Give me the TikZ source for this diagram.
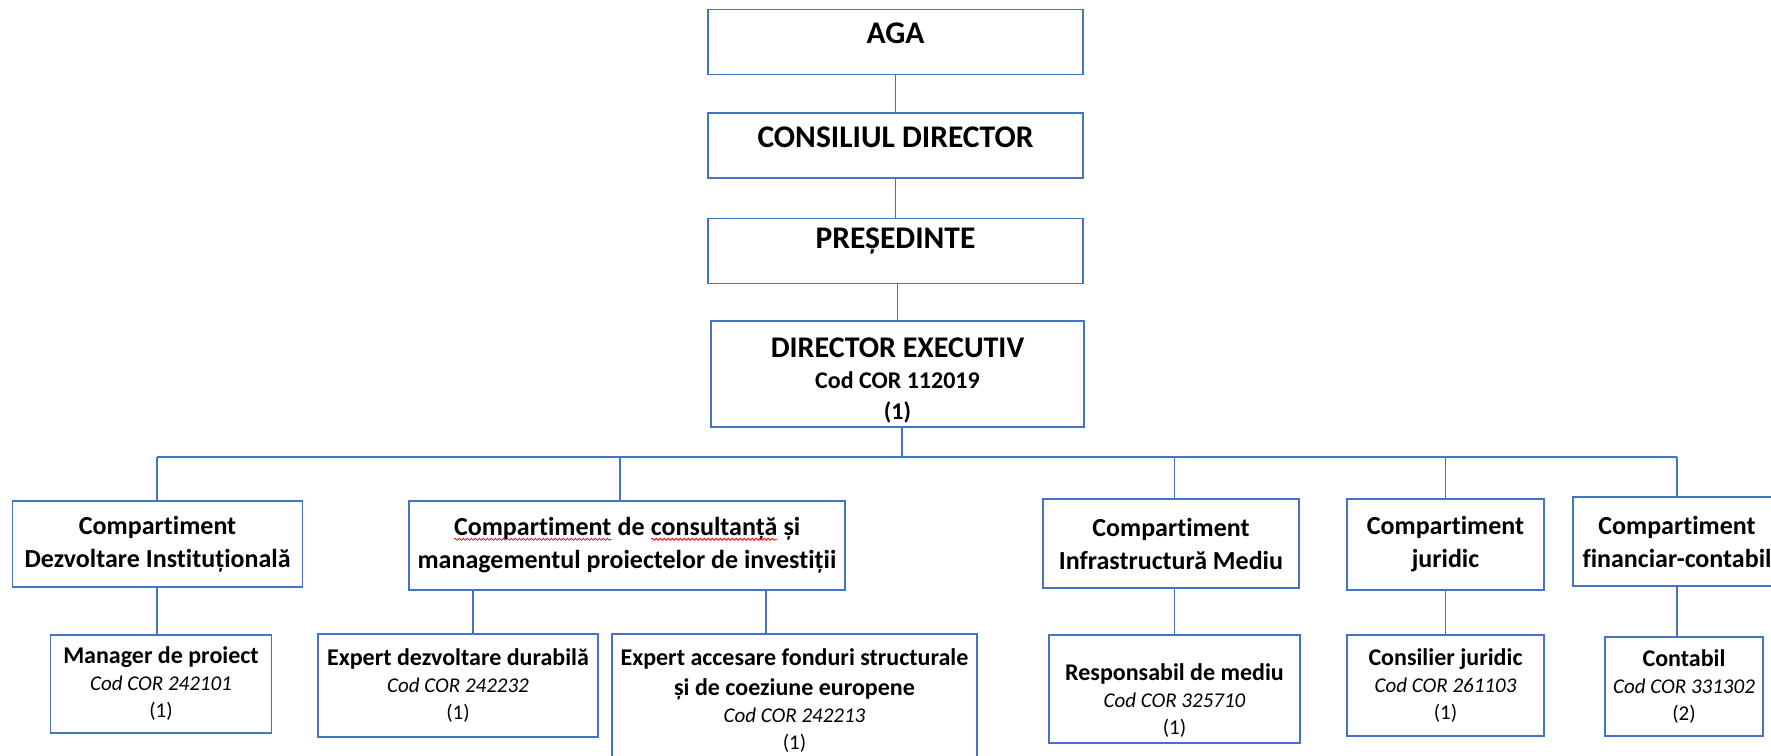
\documentclass[tikz,border=0pt]{standalone}
\usepackage{fontspec}
\setmainfont{Carlito}[Ligatures={NoCommon}]
\usepackage{xcolor}
\usetikzlibrary{decorations.pathmorphing}
\definecolor{boxblue}{RGB}{68,114,196}
\newcommand{\redwave}[1]{\tikz[baseline=(w.base)]{\node[draw=none,inner sep=0pt,outer sep=0pt,minimum width=0pt,minimum height=0pt,align=left] (w) {#1};
    \draw[red,line width=0.8pt,decorate,decoration={snake,amplitude=1pt,segment length=4pt}] ([yshift=-3.5pt]w.base west) -- ([yshift=-3.5pt]w.base east);}}
\newcommand{\postname}[1]{{\bfseries\fontsize{24}{27}\selectfont #1}}

\begin{document}
\begin{tikzpicture}[x=1pt,y=-1pt,
    box/.style={draw=boxblue,line width=1.6pt,align=center,inner sep=0pt},
    topbox/.style={box,minimum width=375pt,minimum height=65pt,text depth=17pt,font=\bfseries\fontsize{31.5}{36}\selectfont},
    deptbox/.style={box,font=\bfseries\fontsize{26}{33}\selectfont},
    postbox/.style={box,font=\fontsize{21}{27}\selectfont},
    link/.style={draw=boxblue,line width=1.6pt}]
    \useasboundingbox (0,0) rectangle (1771,755);
    \clip (0,0) rectangle (1771,755);
    % conducere
    \node[topbox] (aga) at (895.5,42) {AGA};
    \node[topbox] (consiliu) at (895.5,145.5) {CONSILIUL DIRECTOR};
    \node[topbox,text depth=25pt] (presedinte) at (895.5,251) {PREȘEDINTE};
    \node[box,minimum width=373pt,minimum height=106pt,text height=95pt,font=\bfseries\fontsize{24}{31}\selectfont] (director) at (897.5,374)
        {{\fontsize{30}{31}\selectfont DIRECTOR EXECUTIV}\\Cod COR 112019\\(1)};
    % compartimente
    \node[deptbox,minimum width=290pt,minimum height=86pt] (cdi) at (157.6,544) {Compartiment\\Dezvoltare Instituțională};
    \node[deptbox,minimum width=436pt,minimum height=89pt] (ccm) at (627,545.5)
        {\redwave{Compartiment} de \redwave{consultanță} și\\managementul proiectelor de investiții};
    \node[deptbox,minimum width=256pt,minimum height=89pt] (cim) at (1171,543.5) {Compartiment\\Infrastructură Mediu};
    \node[deptbox,minimum width=197pt,minimum height=91pt] (cj) at (1445.5,544.5) {Compartiment\\juridic};
    \node[deptbox,minimum width=208pt,minimum height=89pt] (cfc) at (1677,541.5) {Compartiment\\financiar-contabil};
    % posturi
    \node[postbox,minimum width=221pt,minimum height=98pt] (mp) at (161,684)
        {\postname{Manager de proiect}\\\textit{Cod COR 242101}\\(1)};
    \node[postbox,minimum width=280pt,minimum height=103pt] (edd) at (458,685.5)
        {\postname{Expert dezvoltare durabilă}\\\textit{Cod COR 242232}\\(1)};
    \node[postbox,minimum width=365pt,minimum height=134pt] (eaf) at (794.5,701)
        {\postname{Expert accesare fonduri structurale}\\[3pt]\postname{și de coeziune europene}\\\textit{Cod COR 242213}\\(1)};
    \node[postbox,minimum width=251pt,minimum height=108pt,text height=93pt] (rm) at (1174.5,689)
        {\postname{Responsabil de mediu}\\\textit{Cod COR 325710}\\(1)};
    \node[postbox,minimum width=197pt,minimum height=101pt] (cjr) at (1445.5,685.5)
        {\postname{Consilier juridic}\\\textit{Cod COR 261103}\\(1)};
    \node[postbox,minimum width=158pt,minimum height=99pt] (ct) at (1684,686.5)
        {\postname{Contabil}\\\textit{Cod COR 331302}\\(2)};
    % legaturi
    \coordinate (busL) at (157,457);
    \coordinate (busR) at (1677,457);
    \draw[link] (aga) -- (consiliu);
    \draw[link] (consiliu) -- (presedinte);
    \draw[link] (presedinte.south -| director.north) -- (director.north);
    \draw[link] ([xshift=4.5pt]director.south) -- ([xshift=4.5pt]director.south |- busL);
    \draw[link] (busL) -- (busR);
    \draw[link] (busL) -- (busL |- cdi.north);
    \draw[link] ([xshift=-7pt]ccm.north |- busL) -- ([xshift=-7pt]ccm.north);
    \draw[link] (rm.north |- busL) -- (rm.north |- cim.north);
    \draw[link] (cj.north |- busL) -- (cj.north);
    \draw[link] (busR) -- (busR |- cfc.north);
    \draw[link] (busL |- cdi.south) -- (busL |- mp.north);
    \draw[link] ([xshift=15pt]edd.north |- ccm.south) -- ([xshift=15pt]edd.north);
    \draw[link] ([xshift=-28.5pt]eaf.north |- ccm.south) -- ([xshift=-28.5pt]eaf.north);
    \draw[link] (rm.north |- cim.south) -- (rm.north);
    \draw[link] (cj) -- (cjr);
    \draw[link] (busR |- cfc.south) -- (busR |- ct.north);
\end{tikzpicture}
\end{document}
